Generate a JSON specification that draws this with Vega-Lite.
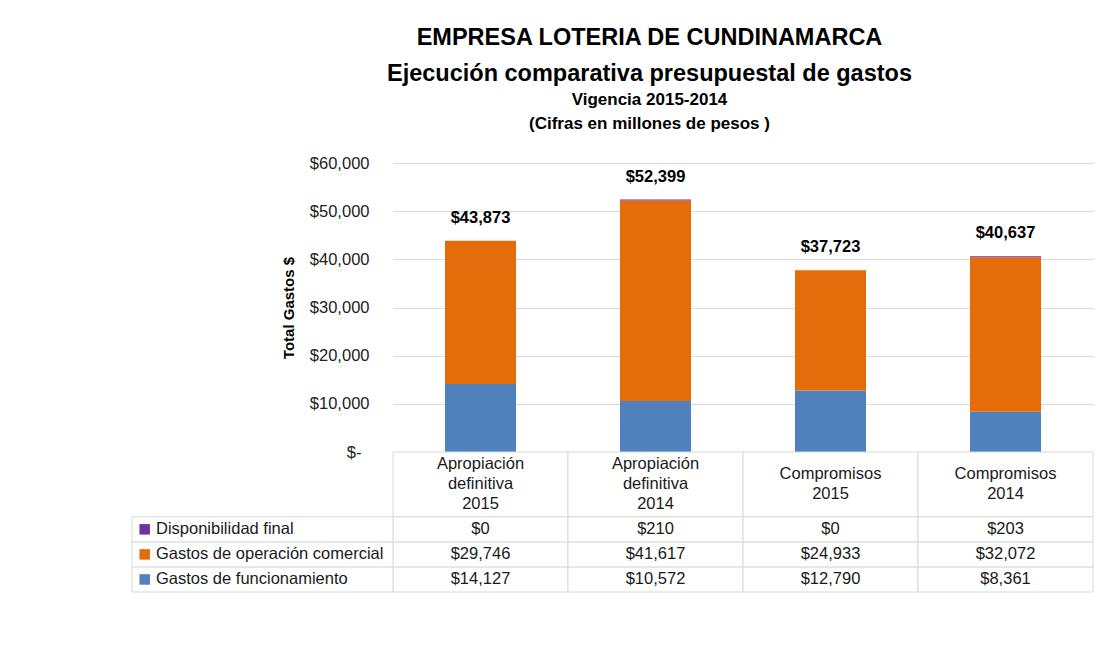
{
  "$schema": "https://vega.github.io/schema/vega-lite/v6.json",
  "padding": {"left": 131, "top": 25, "right": 5, "bottom": 5},
  "autosize": {"type": "pad"},
  "width": 700,
  "height": 429,
  "config": {
    "font": "Liberation Sans",
    "view": {"stroke": null}
  },
  "title": {
    "text": ["EMPRESA LOTERIA DE CUNDINAMARCA", "Ejecución comparativa presupuestal de gastos"],
    "subtitle": ["Vigencia 2015-2014", "(Cifras en millones de pesos )"],
    "anchor": "middle",
    "frame": "bounds",
    "dx": 37,
    "font": "Liberation Sans",
    "fontSize": 23.5,
    "fontWeight": "bold",
    "lineHeight": 36,
    "color": "black",
    "subtitleFont": "Liberation Sans",
    "subtitleFontSize": 17,
    "subtitleFontWeight": "bold",
    "subtitleLineHeight": 24,
    "subtitlePadding": 7,
    "subtitleColor": "black",
    "offset": 23
  },
  "datasets": {
    "gastos": [
      {"categoria": "Apropiación definitiva 2015", "serie": "Gastos de funcionamiento", "orden": 1, "valor": 14127},
      {"categoria": "Apropiación definitiva 2015", "serie": "Gastos de operación comercial", "orden": 2, "valor": 29746},
      {"categoria": "Apropiación definitiva 2015", "serie": "Disponibilidad final", "orden": 3, "valor": 0},
      {"categoria": "Apropiación definitiva 2014", "serie": "Gastos de funcionamiento", "orden": 1, "valor": 10572},
      {"categoria": "Apropiación definitiva 2014", "serie": "Gastos de operación comercial", "orden": 2, "valor": 41617},
      {"categoria": "Apropiación definitiva 2014", "serie": "Disponibilidad final", "orden": 3, "valor": 210},
      {"categoria": "Compromisos 2015", "serie": "Gastos de funcionamiento", "orden": 1, "valor": 12790},
      {"categoria": "Compromisos 2015", "serie": "Gastos de operación comercial", "orden": 2, "valor": 24933},
      {"categoria": "Compromisos 2015", "serie": "Disponibilidad final", "orden": 3, "valor": 0},
      {"categoria": "Compromisos 2014", "serie": "Gastos de funcionamiento", "orden": 1, "valor": 8361},
      {"categoria": "Compromisos 2014", "serie": "Gastos de operación comercial", "orden": 2, "valor": 32072},
      {"categoria": "Compromisos 2014", "serie": "Disponibilidad final", "orden": 3, "valor": 203}
    ],
    "totales": [
      {"categoria": "Apropiación definitiva 2015", "total": 43873},
      {"categoria": "Apropiación definitiva 2014", "total": 52399},
      {"categoria": "Compromisos 2015", "total": 37723},
      {"categoria": "Compromisos 2014", "total": 40637}
    ]
  },
  "data": {"name": "gastos"},
  "resolve": {"scale": {"x": "independent", "y": "independent"}},
  "layer": [
    {
      "mark": {"type": "bar", "width": {"band": 0.406}},
      "encoding": {
        "x": {"field": "categoria", "type": "nominal", "axis": null,
              "scale": {"domain": ["Apropiación definitiva 2015", "Apropiación definitiva 2014", "Compromisos 2015", "Compromisos 2014"], "paddingInner": 0, "paddingOuter": 0}},
        "y": {"field": "valor", "type": "quantitative", "stack": "zero",
              "scale": {"domain": [0, 60000], "range": [289, 0], "nice": false},
              "axis": {
                "values": [0, 10000, 20000, 30000, 40000, 50000, 60000],
                "title": "Total Gastos  $",
                "titleFont": "Liberation Sans",
                "titleFontSize": 15,
                "titleFontWeight": "bold",
                "titleColor": "black",
                "titlePadding": 13,
                "labelExpr": "datum.value == 0 ? '$-' : '$' + format(datum.value, ',')",
                "labelFontSize": 16.5,
                "labelColor": "#222222",
                "labelPadding": {"condition": {"test": "datum.value == 0", "value": 32}, "value": 24},
                "domain": false,
                "ticks": false,
                "grid": true,
                "gridColor": "#d9d9d9",
                "gridWidth": 1
              }},
        "color": {"field": "serie", "type": "nominal", "legend": null,
                  "scale": {"domain": ["Gastos de funcionamiento", "Gastos de operación comercial", "Disponibilidad final"], "range": ["#4f81bd", "#e46c0a", "#7030a0"]}},
        "order": {"field": "orden", "type": "quantitative"}
      }
    },
    {
      "data": {"name": "totales"},
      "mark": {"type": "text", "fontWeight": "bold", "fontSize": 16.5, "baseline": "middle", "dy": -23, "color": "black"},
      "encoding": {
        "x": {"field": "categoria", "type": "nominal", "axis": null,
              "scale": {"domain": ["Apropiación definitiva 2015", "Apropiación definitiva 2014", "Compromisos 2015", "Compromisos 2014"], "paddingInner": 0, "paddingOuter": 0}},
        "y": {"field": "total", "type": "quantitative", "axis": null,
              "scale": {"domain": [0, 60000], "range": [289, 0], "nice": false}},
        "text": {"field": "total", "type": "quantitative", "format": "$,.0f"}
      }
    },
    {
      "data": {"name": "totales"},
      "mark": {"type": "rect", "fill": "white", "stroke": "#d9d9d9", "strokeWidth": 1},
      "encoding": {
        "x": {"field": "categoria", "type": "nominal", "axis": null,
              "scale": {"domain": ["Apropiación definitiva 2015", "Apropiación definitiva 2014", "Compromisos 2015", "Compromisos 2014"], "paddingInner": 0, "paddingOuter": 0}},
        "y": {"datum": 0, "type": "quantitative", "axis": null, "scale": {"domain": [0, 1], "range": [289, 353.8], "nice": false}},
        "y2": {"datum": 1}
      }
    },
    {
      "data": {"name": "totales"},
      "transform": [{"filter": "indexof(datum.categoria, 'Apropiación') == 0"}],
      "mark": {"type": "text", "fontSize": 16.5, "lineBreak": " ", "lineHeight": 20, "baseline": "middle", "dy": -20, "color": "#1a1a1a"},
      "encoding": {
        "x": {"field": "categoria", "type": "nominal", "axis": null,
              "scale": {"domain": ["Apropiación definitiva 2015", "Apropiación definitiva 2014", "Compromisos 2015", "Compromisos 2014"], "paddingInner": 0, "paddingOuter": 0}},
        "y": {"datum": 0.5, "type": "quantitative", "axis": null, "scale": {"domain": [0, 1], "range": [289, 353.8], "nice": false}},
        "text": {"field": "categoria", "type": "nominal"}
      }
    },
    {
      "data": {"name": "totales"},
      "transform": [{"filter": "indexof(datum.categoria, 'Compromisos') == 0"}],
      "mark": {"type": "text", "fontSize": 16.5, "lineBreak": " ", "lineHeight": 20, "baseline": "middle", "dy": -10, "color": "#1a1a1a"},
      "encoding": {
        "x": {"field": "categoria", "type": "nominal", "axis": null,
              "scale": {"domain": ["Apropiación definitiva 2015", "Apropiación definitiva 2014", "Compromisos 2015", "Compromisos 2014"], "paddingInner": 0, "paddingOuter": 0}},
        "y": {"datum": 0.5, "type": "quantitative", "axis": null, "scale": {"domain": [0, 1], "range": [289, 353.8], "nice": false}},
        "text": {"field": "categoria", "type": "nominal"}
      }
    },
    {
      "mark": {"type": "rect", "fill": "white", "stroke": "#d9d9d9", "strokeWidth": 1},
      "encoding": {
        "x": {"field": "categoria", "type": "nominal", "axis": null,
              "scale": {"domain": ["Apropiación definitiva 2015", "Apropiación definitiva 2014", "Compromisos 2015", "Compromisos 2014"], "paddingInner": 0, "paddingOuter": 0}},
        "y": {"field": "serie", "type": "nominal", "axis": null,
              "scale": {"domain": ["Disponibilidad final", "Gastos de operación comercial", "Gastos de funcionamiento"], "range": [353.8, 429], "paddingInner": 0, "paddingOuter": 0}}
      }
    },
    {
      "mark": {"type": "text", "fontSize": 16.5, "baseline": "middle", "color": "#1a1a1a"},
      "encoding": {
        "x": {"field": "categoria", "type": "nominal", "axis": null,
              "scale": {"domain": ["Apropiación definitiva 2015", "Apropiación definitiva 2014", "Compromisos 2015", "Compromisos 2014"], "paddingInner": 0, "paddingOuter": 0}},
        "y": {"field": "serie", "type": "nominal", "axis": null,
              "scale": {"domain": ["Disponibilidad final", "Gastos de operación comercial", "Gastos de funcionamiento"], "range": [353.8, 429], "paddingInner": 0, "paddingOuter": 0}},
        "text": {"field": "valor", "type": "quantitative", "format": "$,.0f"}
      }
    },
    {
      "transform": [{"filter": "datum.categoria == 'Apropiación definitiva 2015'"}],
      "mark": {"type": "rect", "fill": "white", "stroke": "#d9d9d9", "strokeWidth": 1},
      "encoding": {
        "x": {"datum": 0, "type": "quantitative", "axis": null, "scale": {"domain": [0, 1], "range": [-261, 0], "nice": false}},
        "x2": {"datum": 1},
        "y": {"field": "serie", "type": "nominal", "axis": null,
              "scale": {"domain": ["Disponibilidad final", "Gastos de operación comercial", "Gastos de funcionamiento"], "range": [353.8, 429], "paddingInner": 0, "paddingOuter": 0}}
      }
    },
    {
      "transform": [{"filter": "datum.categoria == 'Apropiación definitiva 2015'"}],
      "mark": {"type": "point", "shape": "square", "size": 110, "filled": true, "opacity": 1, "xOffset": 12.7},
      "encoding": {
        "x": {"datum": 0, "type": "quantitative", "axis": null, "scale": {"domain": [0, 1], "range": [-261, 0], "nice": false}},
        "y": {"field": "serie", "type": "nominal", "axis": null,
              "scale": {"domain": ["Disponibilidad final", "Gastos de operación comercial", "Gastos de funcionamiento"], "range": [353.8, 429], "paddingInner": 0, "paddingOuter": 0}},
        "color": {"field": "serie", "type": "nominal", "legend": null}
      }
    },
    {
      "transform": [{"filter": "datum.categoria == 'Apropiación definitiva 2015'"}],
      "mark": {"type": "text", "fontSize": 16.5, "align": "left", "baseline": "middle", "dx": 24, "color": "#1a1a1a"},
      "encoding": {
        "x": {"datum": 0, "type": "quantitative", "axis": null, "scale": {"domain": [0, 1], "range": [-261, 0], "nice": false}},
        "y": {"field": "serie", "type": "nominal", "axis": null,
              "scale": {"domain": ["Disponibilidad final", "Gastos de operación comercial", "Gastos de funcionamiento"], "range": [353.8, 429], "paddingInner": 0, "paddingOuter": 0}},
        "text": {"field": "serie", "type": "nominal"}
      }
    }
  ]
}
